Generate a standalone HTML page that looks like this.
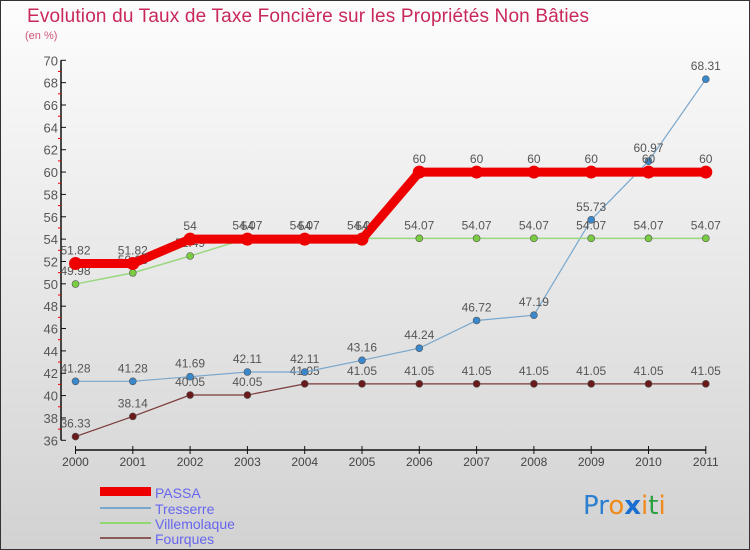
<!DOCTYPE html>
<html><head><meta charset="utf-8"><style>
html,body{margin:0;padding:0}
body{width:750px;height:550px;overflow:hidden;font-family:"Liberation Sans",sans-serif}
#wrap{position:absolute;left:0;top:0;width:748px;height:548px;border:1px solid #333;background:linear-gradient(#fdfdfd,#d2d2d2)}
</style></head><body>
<div id="wrap">
<svg id="chart" width="750" height="550" style="position:absolute;left:-1px;top:-1px">
<text x="27" y="22" font-size="19" fill="#c8285a" textLength="562">Evolution du Taux de Taxe Foncière sur les Propriétés Non Bâties</text>
<text x="25" y="39" font-size="11" fill="#d0557a">(en %)</text>
<g id="axes"></g><g id="series"></g>
<g>
<rect x="100" y="487" width="51" height="9" fill="#ee0000"/>
<text x="155" y="498" font-size="14" fill="#6666ee">PASSA</text>
<rect x="100" y="507" width="51" height="2" fill="#7aa7cc"/>
<text x="155" y="514" font-size="14" fill="#6666ee">Tresserre</text>
<rect x="100" y="522" width="51" height="2" fill="#90d870"/>
<text x="155" y="529" font-size="14" fill="#6666ee">Villemolaque</text>
<rect x="100" y="537" width="51" height="2" fill="#8a5a5a"/>
<text x="155" y="544" font-size="14" fill="#6666ee">Fourques</text>
</g>
<text x="583" y="514" font-size="26" font-family="'DejaVu Sans',sans-serif"><tspan fill="#2b7fd0">Pr</tspan><tspan fill="#f08a1a">o</tspan><tspan fill="#1a6fd0" font-weight="bold">x</tspan><tspan fill="#f08a1a">i</tspan><tspan fill="#2aa040">t</tspan><tspan fill="#f08a1a">i</tspan></text>
</svg>
</div>
<script>
const years=[2000,2001,2002,2003,2004,2005,2006,2007,2008,2009,2010,2011];
const passa=[51.82,51.82,54,54,54,54,60,60,60,60,60,60];
const tresserre=[41.28,41.28,41.69,42.11,42.11,43.16,44.24,46.72,47.19,55.73,60.97,68.31];
const villemolaque=[49.98,50.98,52.49,54.07,54.07,54.07,54.07,54.07,54.07,54.07,54.07,54.07];
const fourques=[36.33,38.14,40.05,40.05,41.05,41.05,41.05,41.05,41.05,41.05,41.05,41.05];
const yTicks=[36,38,40,42,44,46,48,50,52,54,56,58,60,62,64,66,68,70];
const NS="http://www.w3.org/2000/svg";
const x=i=>75.5+i*57.3;
const y=v=>440.3-(v-36)*(380/34);
function mk(tag,attrs,parent){const e=document.createElementNS(NS,tag);for(const k in attrs)e.setAttribute(k,attrs[k]);parent.appendChild(e);return e;}
const ax=document.getElementById('axes'),sg=document.getElementById('series');
let yl=mk('line',{x1:61,y1:y(70),x2:61,y2:y(36),stroke:'#111','stroke-width':1.5},ax);


yTicks.forEach(t=>{
  mk('line',{x1:61,x2:66,y1:y(t),y2:y(t),stroke:'#111'},ax);
  if(t<70) mk('line',{x1:58,x2:61,y1:y(t+1),y2:y(t+1),stroke:'#e00'},ax);
  const tx=mk('text',{x:58,y:y(t)+5,'text-anchor':'end','font-size':13,fill:'#555'},ax);
  tx.textContent=t;
  
  
});
let xl=mk('line',{x1:x(0),x2:x(11),y1:450,y2:450,stroke:'#111','stroke-width':1.5},ax);


years.forEach((yr,i)=>{
  mk('line',{x1:x(i),x2:x(i),y1:446,y2:454,stroke:'#111'},ax);
  const tx=mk('text',{x:x(i),y:466,'text-anchor':'middle','font-size':12,fill:'#444'},ax);
  tx.textContent=yr;
  
  
});
function series(name,vals,color,width,r,ptColor){
  const g=mk('g',{},sg);
  
  
  mk('polyline',{points:vals.map((v,i)=>x(i)+','+y(v)).join(' '),fill:'none',stroke:color,'stroke-width':width},g);
  vals.forEach((v,i)=>{
    const c=mk('circle',{cx:x(i),cy:y(v),r:r,fill:ptColor,stroke:'#555','stroke-width':r>5?0:0.6},g);
    
    
    const t=mk('text',{x:x(i),y:y(v)-9,'text-anchor':'middle','font-size':12,fill:'#555'},g);
    t.textContent=v;
    
    
  });
}
series('fourques',fourques,'#7a3a3a',1.2,3.5,'#6a1a1a');
series('tresserre',tresserre,'#7aa7cc',1.2,3.5,'#3a88cc');
series('villemolaque',villemolaque,'#9ad880',1.5,3.5,'#7acc40');
series('passa',passa,'#ee0000',9,6.5,'#ee0000');
</script>
</body></html>
